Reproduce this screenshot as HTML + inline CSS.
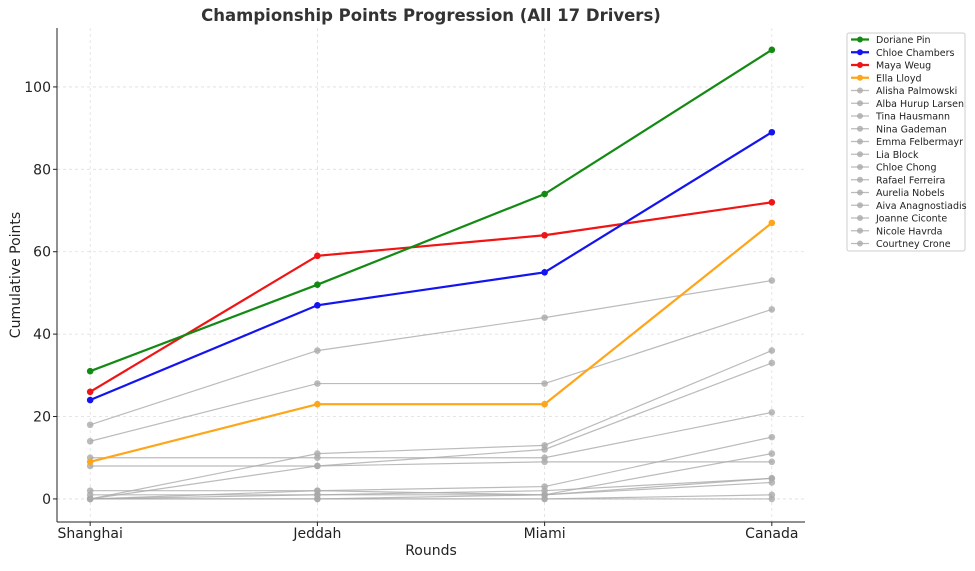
<!DOCTYPE html>
<html><head><meta charset="utf-8"><style>
body{margin:0;background:#fff;font-family:"Liberation Sans","DejaVu Sans",sans-serif;}
svg text{font-family:"DejaVu Sans","Liberation Sans",sans-serif;}
</style></head><body>
<svg id="chart" width="975" height="566" xmlns="http://www.w3.org/2000/svg"></svg>
<script>
const rounds = ["Shanghai","Jeddah","Miami","Canada"];
const driverNames = ["Doriane Pin","Chloe Chambers","Maya Weug","Ella Lloyd","Alisha Palmowski","Alba Hurup Larsen","Tina Hausmann","Nina Gademan","Emma Felbermayr","Lia Block","Chloe Chong","Rafael Ferreira","Aurelia Nobels","Aiva Anagnostiadis","Joanne Ciconte","Nicole Havrda","Courtney Crone"];
const driverColors = ["#138a13","#1414f0","#f01414","#ffa51a","#aaa","#aaa","#aaa","#aaa","#aaa","#aaa","#aaa","#aaa","#aaa","#aaa","#aaa","#aaa","#aaa"];
const pin = [31,52,74,109];
const chambers = [24,47,55,89];
const weug = [26,59,64,72];
const lloyd = [9,23,23,67];
const g1 = [18,36,44,53];
const g2 = [14,28,28,46];
const g3 = [0,11,13,36];
const g4 = [0,8,12,33];
const g5 = [10,10,10,21];
const g6 = [8,8,9,9];
const g7 = [2,2,3,15];
const g8 = [0,2,1,11];
const g9 = [1,1,2,5];
const g10 = [0,0,1,5];
const g11 = [0,1,1,4];
const g12 = [0,0,0,1];
const g13 = [0,0,0,0];
const yTicks = [0,20,40,60,80,100];
const series = [pin,chambers,weug,lloyd,g1,g2,g3,g4,g5,g6,g7,g8,g9,g10,g11,g12,g13];

const NS="http://www.w3.org/2000/svg", svg=document.getElementById('chart');
const L=57,R=805,T=28,B=522, x0=-0.146,x1=3.146, y0=-5.6,y1=114.3;
const xs=i=>L+(i-x0)/(x1-x0)*(R-L);
const ys=v=>B-(v-y0)/(y1-y0)*(B-T);
function mk(t,a,p){const e=document.createElementNS(NS,t);for(const k in a)e.setAttribute(k,a[k]);(p||svg).appendChild(e);return e;}
// grid
yTicks.forEach(v=>{const g=mk('line',{x1:L,x2:R,y1:ys(v),y2:ys(v),stroke:'#ddd','stroke-dasharray':'3,3','stroke-width':0.8});


const t=mk('text',{x:L-6,y:ys(v)+5,'text-anchor':'end','font-size':14,fill:'#222'});t.textContent=v;


mk('line',{x1:L-4,x2:L,y1:ys(v),y2:ys(v),stroke:'#222'});});
rounds.forEach((r,i)=>{const g=mk('line',{x1:xs(i),x2:xs(i),y1:T,y2:B,stroke:'#ddd','stroke-dasharray':'3,3','stroke-width':0.8});


mk('line',{x1:xs(i),x2:xs(i),y1:B,y2:B+4,stroke:'#222'});
const t=mk('text',{x:xs(i),y:B+16,'text-anchor':'middle','font-size':14,fill:'#222'});t.textContent=r;

});
// series: gray first
const order=[];for(let i=series.length-1;i>=0;i--)order.push(i);
order.forEach(i=>{const d=series[i],c=driverColors[i],main=i<4;
const g=mk('g',{});


const pl=mk('polyline',{points:d.map((v,j)=>xs(j)+','+ys(v)).join(' '),fill:'none',stroke:c,'stroke-width':main?2.2:1.2,opacity:main?1:0.8},g);


d.forEach((v,j)=>{const p=mk('circle',{cx:xs(j),cy:ys(v),r:main?3.3:3.3,fill:c,opacity:main?1:0.8},g);

});});
// axes
mk('line',{x1:L,x2:L,y1:T,y2:B,stroke:'#222','stroke-width':1});
mk('line',{x1:L,x2:R,y1:B,y2:B,stroke:'#222','stroke-width':1});
let t=mk('text',{x:431,y:21,'text-anchor':'middle','font-size':16.5,'font-weight':'bold',fill:'#333'});t.textContent='Championship Points Progression (All 17 Drivers)';

t=mk('text',{x:431,y:555,'text-anchor':'middle','font-size':14,fill:'#222'});t.textContent='Rounds';

t=mk('text',{x:20,y:275,'text-anchor':'middle','font-size':14,fill:'#222',transform:'rotate(-90 20 275)'});t.textContent='Cumulative Points';

// legend
const lg=mk('g',{});


mk('rect',{x:847,y:33,width:118,height:218,fill:'#fff',stroke:'#ccc',rx:2},lg);
driverNames.forEach((n,i)=>{const y=39.5+i*12.75,c=driverColors[i],main=i<4;
const e=mk('g',{},lg);


mk('line',{x1:851,x2:869,y1:y,y2:y,stroke:c,'stroke-width':main?2.2:1.2,opacity:main?1:0.8},e);
mk('circle',{cx:860,cy:y,r:3,fill:c,opacity:main?1:0.8},e);
const tt=mk('text',{x:876,y:y+3.5,'font-size':9.5,fill:'#222'},e);tt.textContent=n;});
</script>
</body></html>
